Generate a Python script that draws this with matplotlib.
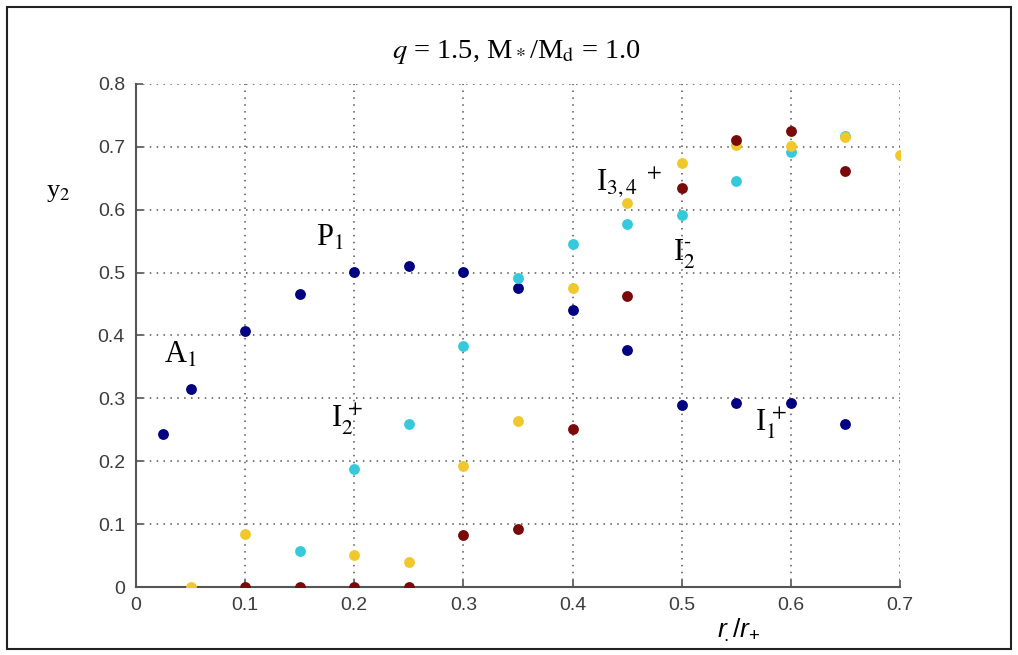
import matplotlib
matplotlib.use("Agg")
import matplotlib.pyplot as plt
from matplotlib.patches import Rectangle

# y2 values of the four branches versus r/r+
navy_r = [0.025, 0.05, 0.10, 0.15, 0.20, 0.25, 0.30, 0.35, 0.40, 0.45, 0.50, 0.55, 0.60, 0.65]
navy_y = [0.243, 0.315, 0.407, 0.466, 0.501, 0.510, 0.501, 0.476, 0.440, 0.377, 0.290, 0.293, 0.293, 0.260]

cyan_r = [0.15, 0.20, 0.25, 0.30, 0.35, 0.40, 0.45, 0.50, 0.55, 0.60, 0.65]
cyan_y = [0.058, 0.187, 0.259, 0.383, 0.491, 0.545, 0.578, 0.592, 0.646, 0.692, 0.718]

yellow_r = [0.05, 0.10, 0.20, 0.25, 0.30, 0.35, 0.40, 0.45, 0.50, 0.55, 0.60, 0.65, 0.70]
yellow_y = [0.0, 0.085, 0.051, 0.040, 0.192, 0.264, 0.475, 0.610, 0.674, 0.703, 0.702, 0.715, 0.687]

maroon_r = [0.10, 0.15, 0.20, 0.25, 0.30, 0.35, 0.40, 0.45, 0.50, 0.55, 0.60, 0.65]
maroon_y = [0.0, 0.0, 0.0, 0.0, 0.082, 0.093, 0.252, 0.463, 0.634, 0.711, 0.725, 0.662]

xticks = [0, 0.1, 0.2, 0.3, 0.4, 0.5, 0.6, 0.7]
yticks = [0, 0.1, 0.2, 0.3, 0.4, 0.5, 0.6, 0.7, 0.8]
xtick_labels = ["0", "0.1", "0.2", "0.3", "0.4", "0.5", "0.6", "0.7"]
ytick_labels = ["0", "0.1", "0.2", "0.3", "0.4", "0.5", "0.6", "0.7", "0.8"]

# branch labels: (text, r, y)
branch_labels = [
    (r"A$_1$", 0.026, 0.356),
    (r"P$_1$", 0.165, 0.542),
    (r"I$_2^{\,+}$", 0.179, 0.255),
    (r"I$_{3,4}$$^{\ +}$", 0.421, 0.631),
    (r"I$_2^{\text{-}}$", 0.492, 0.519),
    (r"I$_1^{\,+}$", 0.567, 0.248),
]

serif = "Liberation Serif"
sans = "Liberation Sans"
plt.rcParams["mathtext.fontset"] = "custom"
plt.rcParams["mathtext.it"] = "Liberation Sans:italic"
plt.rcParams["mathtext.rm"] = "Liberation Sans"

fig = plt.figure(figsize=(10.18, 6.55), dpi=100)
ax = fig.add_axes([0.1336, 0.1038, 0.7505, 0.768])

ms = 7.8
ax.plot(navy_r, navy_y, "o", color="#000080", ms=ms, mec="none", zorder=3)
ax.plot(cyan_r, cyan_y, "o", color="#35c9dc", ms=ms, mec="none", zorder=3)
ax.plot(yellow_r, yellow_y, "o", color="#f0c82c", ms=ms, mec="none", zorder=3)
ax.plot(maroon_r, maroon_y, "o", color="#7a0a0a", ms=ms, mec="none", zorder=3)

ax.set_xlim(0, 0.7)
ax.set_ylim(0, 0.8)
ax.set_xticks(xticks)
ax.set_yticks(yticks)
ax.set_xticklabels(xtick_labels)
ax.set_yticklabels(ytick_labels)
for lab in ax.get_xticklabels() + ax.get_yticklabels():
    lab.set_fontfamily(sans)
    lab.set_fontsize(14)
    lab.set_color("#3c3c3c")

ax.grid(True, color="#555555", linestyle=(0, (1, 3.5)), linewidth=1.1)
ax.set_axisbelow(True)
ax.spines["top"].set_visible(False)
ax.spines["right"].set_visible(False)
for s in ("left", "bottom"):
    ax.spines[s].set_color("#555555")
    ax.spines[s].set_linewidth(1.5)
ax.tick_params(direction="in", length=5, width=1.2, color="#555555")
ax.tick_params(axis="y", pad=8)
ax.tick_params(axis="x", pad=7)

for txt, xr, yv in branch_labels:
    ax.text(xr, yv, txt, fontfamily=serif, fontsize=22, math_fontfamily="stix",
            ha="left", va="baseline", zorder=4)

fig.text(0.507, 0.9115, r"$q$ = 1.5, M$_*$/M$_\mathrm{d}$ = 1.0", fontfamily=serif,
         fontsize=20.5, math_fontfamily="stix", ha="center", va="baseline")
fig.text(0.0455, 0.7, r"y$_2$", fontfamily=serif, fontsize=19,
         math_fontfamily="stix", ha="left", va="baseline")
fig.text(0.704, 0.027, r"$r_{\!.}/r_{+}$", fontsize=19, ha="left", va="baseline")

# frame round the whole figure
fig.patches.append(Rectangle((0.007, 0.009), 0.986, 0.98, transform=fig.transFigure,
                             fill=False, edgecolor="#222222", linewidth=1.5))

fig.savefig("out.png", dpi=100, facecolor="white")
